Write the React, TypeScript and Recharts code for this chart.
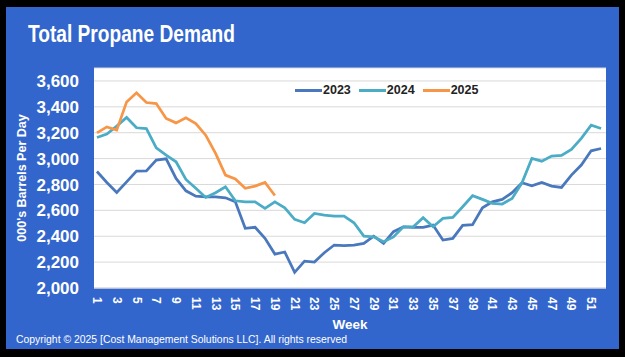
import { LineChart, Line, XAxis, YAxis, CartesianGrid, Legend, Label } from "recharts";

const weeks = [
  1, 2, 3, 4, 5, 6, 7, 8, 9, 10, 11, 12, 13, 14, 15, 16, 17, 18, 19, 20, 21, 22, 23, 24, 25, 26,
  27, 28, 29, 30, 31, 32, 33, 34, 35, 36, 37, 38, 39, 40, 41, 42, 43, 44, 45, 46, 47, 48, 49, 50, 51, 52,
];
const weekTicks = [1, 3, 5, 7, 9, 11, 13, 15, 17, 19, 21, 23, 25, 27, 29, 31, 33, 35, 37, 39, 41, 43, 45, 47, 49, 51];
const demandTicks = [2000, 2200, 2400, 2600, 2800, 3000, 3200, 3400, 3600];

const demand2023 = [
  2900, 2815, 2738, 2820, 2903, 2905, 2988, 2998, 2847, 2751, 2710, 2705, 2705, 2697, 2666, 2461, 2469,
  2384, 2262, 2278, 2121, 2208, 2200, 2273, 2332, 2327, 2332, 2345, 2401, 2345, 2435, 2473, 2468, 2468,
  2486, 2370, 2383, 2484, 2490, 2620, 2666, 2685, 2736, 2813, 2790, 2816, 2787, 2777, 2872, 2950, 3060, 3078,
];
const demand2024 = [
  3163, 3189, 3251, 3318, 3238, 3232, 3083, 3027, 2975, 2839, 2770, 2700, 2736, 2782, 2674, 2666, 2666,
  2615, 2666, 2620, 2530, 2504, 2576, 2563, 2555, 2555, 2504, 2401, 2395, 2358, 2395, 2473, 2473, 2543,
  2473, 2538, 2545, 2628, 2713, 2685, 2654, 2649, 2692, 2813, 3001, 2980, 3019, 3024, 3070, 3156, 3258, 3232,
];
const demand2025 = [
  3199, 3245, 3220, 3438, 3508, 3433, 3425, 3310, 3276, 3315, 3271, 3181, 3040, 2872, 2842, 2770, 2787, 2816, 2715,
];

const data = weeks.map((week, i) => ({
  week,
  y2023: demand2023[i],
  y2024: demand2024[i],
  y2025: i < demand2025.length ? demand2025[i] : null,
}));

const FONT = '"Liberation Sans", Arial, sans-serif';

function WeekTick({ x, y, payload }: any) {
  return (
    <text
      x={x}
      y={y}
      transform={`rotate(90 ${x} ${y})`}
      textAnchor="start"
      dominantBaseline="central"
      fill="#fff"
      fontSize={12}
      fontWeight="bold"
      fontFamily={FONT}
    >
      {payload.value}
    </text>
  );
}

function LegendBox({ payload }: any) {
  return (
    <div style={{ display: "flex", alignItems: "center", fontFamily: FONT }}>
      {payload.map((p: any) => (
        <div key={p.value} style={{ display: "flex", alignItems: "center", marginRight: 8 }}>
          <span style={{ display: "inline-block", width: 27, height: 3, background: p.color }} />
          <span style={{ fontSize: 12.5, fontWeight: "bold", color: "#222", marginLeft: 1 }}>{p.value}</span>
        </div>
      ))}
    </div>
  );
}

export default function App() {
  return (
    <div style={{ width: 625, height: 357, background: "#000", position: "relative", overflow: "hidden" }}>
      <style>{`body{margin:0}`}</style>
      <div style={{ position: "absolute", left: 6, top: 7, width: 613, height: 342, background: "#3366CC" }} />
      <svg width={625} height={357} style={{ position: "absolute", left: 0, top: 0 }}>
        <text
          x={28}
          y={42}
          fill="#fff"
          fontSize={23}
          fontWeight="bold"
          fontFamily={FONT}
          textLength={207}
          lengthAdjust="spacingAndGlyphs"
        >
          Total Propane Demand
        </text>
        <text
          x={16}
          y={343}
          fill="#fff"
          fontSize={11}
          fontFamily={FONT}
          textLength={331}
          lengthAdjust="spacingAndGlyphs"
        >
          Copyright © 2025 [Cost Management Solutions LLC].  All rights reserved
        </text>
      </svg>
      <div style={{ position: "absolute", left: 0, top: 0 }}>
        <LineChart width={625} height={357} data={data} margin={{ top: 68, right: 19, bottom: 29, left: 0 }}>
          <CartesianGrid vertical={false} stroke="#D9D9D9" fill="#fff" />
          <XAxis
            dataKey="week"
            type="number"
            domain={[0.7, 52.5]}
            ticks={weekTicks}
            interval={0}
            height={40}
            tickLine={false}
            tickSize={0}
            tickMargin={9}
            axisLine={{ stroke: "#D9D9D9" }}
            tick={<WeekTick />}
          >
            <Label
              content={({ viewBox }: any) => (
                <text
                  x={viewBox.x + viewBox.width / 2}
                  y={viewBox.y + 36}
                  textAnchor="middle"
                  dominantBaseline="central"
                  fill="#fff"
                  fontSize={13.5}
                  fontWeight="bold"
                  fontFamily={FONT}
                >
                  Week
                </text>
              )}
            />
          </XAxis>
          <YAxis
            width={94}
            domain={[2000, 3700]}
            ticks={demandTicks}
            interval={0}
            tickLine={false}
            axisLine={false}
            tickSize={0}
            tickMargin={15}
            tickFormatter={(v: number) => v.toLocaleString("en-US")}
            tick={{ fill: "#fff", fontSize: 17, fontWeight: "bold", fontFamily: FONT }}
          >
            <Label
              content={({ viewBox }: any) => {
                const cx = viewBox.x + 22;
                const cy = viewBox.y + viewBox.height / 2;
                return (
                  <text
                    x={cx}
                    y={cy}
                    transform={`rotate(-90 ${cx} ${cy})`}
                    textAnchor="middle"
                    dominantBaseline="central"
                    fill="#fff"
                    fontSize={12.5}
                    fontWeight="bold"
                    fontFamily={FONT}
                  >
                    000's Barrels Per Day
                  </text>
                );
              }}
            />
          </YAxis>
          <Legend
            layout="horizontal"
            verticalAlign="middle"
            align="center"
            wrapperStyle={{ top: 83, left: 295, width: "auto" }}
            content={<LegendBox />}
          />
          <Line dataKey="y2023" name="2023" stroke="#4A78BD" strokeWidth={2.75} dot={false} isAnimationActive={false} />
          <Line dataKey="y2024" name="2024" stroke="#4BACC6" strokeWidth={2.75} dot={false} isAnimationActive={false} />
          <Line dataKey="y2025" name="2025" stroke="#F79646" strokeWidth={2.75} dot={false} isAnimationActive={false} />
        </LineChart>
      </div>
    </div>
  );
}
